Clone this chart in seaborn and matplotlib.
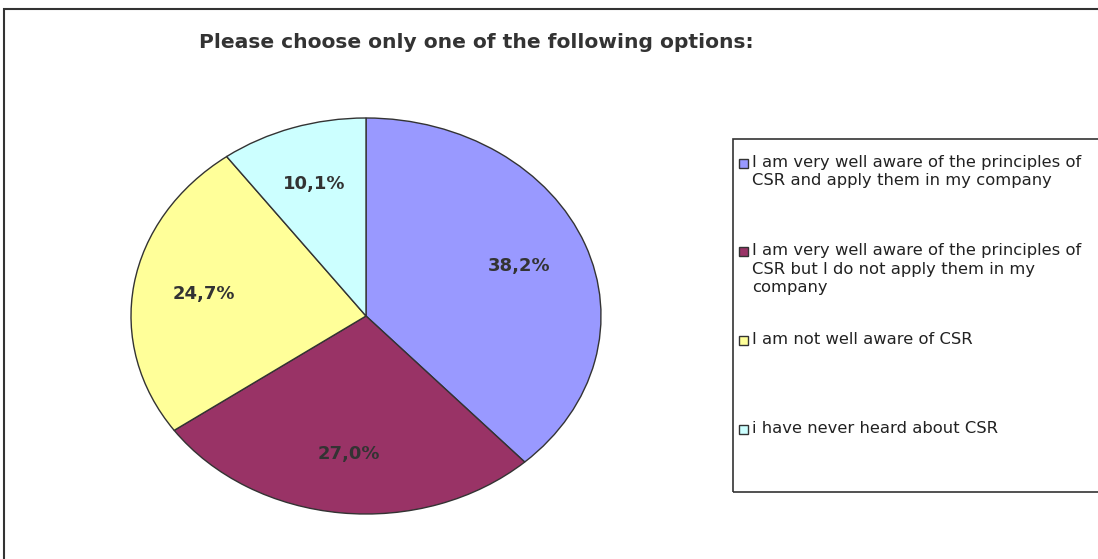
import matplotlib
matplotlib.use("Agg")
import matplotlib.pyplot as plt
import seaborn as sns
from matplotlib.patches import Rectangle

# dane z wykresu
labels = [
    "I am very well aware of the principles of\nCSR and apply them in my company",
    "I am very well aware of the principles of\nCSR but I do not apply them in my\ncompany",
    "I am not well aware of CSR",
    "i have never heard about CSR",
]
values = [38.2, 27.0, 24.7, 10.1]
colors = ["#9999FF", "#993366", "#FFFF99", "#CCFFFF"]
title = "Please choose only one of the following options:"

sns.set_style("white")
plt.rcParams['font.family'] = ['DejaVu Sans']
palette = sns.color_palette(colors)

W, H = 1098, 559
fig = plt.figure(figsize=(W / 100, H / 100), dpi=100)


def px(x, y):
    # piksele (od lewego gornego rogu) -> ulamki figury
    return x / W, 1 - y / H


# ramka wokol calego wykresu
fig.patches.append(Rectangle(px(4, 600), 1.2, (600 - 9) / H, transform=fig.transFigure,
                             fill=False, edgecolor="#333333", linewidth=1.5))

# elipsa: srodek (366, 316), promienie 235 x 198
ax = fig.add_axes([131 / W, (H - 514) / H, 470 / W, 396 / H])
wedges, texts, autotexts = ax.pie(
    values, colors=palette, startangle=90, counterclock=False, radius=1,
    pctdistance=0.7,
    autopct=lambda p: f"{p:.1f}%".replace(".", ","),
    wedgeprops=dict(edgecolor="#333333", linewidth=1),
    textprops=dict(fontsize=13, fontweight="bold", color="#333333"),
)
ax.set_aspect("auto")
ax.set_xlim(-1, 1)
ax.set_ylim(-1, 1)
ax.axis("off")

fig.text(*px(476, 42), title, ha="center", va="center", fontsize=14.6,
         fontweight="bold", color="#333333")

# legenda rysowana recznie (znacznik przy pierwszej linii wpisu)
fig.patches.append(Rectangle(px(733, 492), 0.5, (492 - 139) / H, transform=fig.transFigure,
                             fill=False, edgecolor="#333333", linewidth=1.2))
y0, step = 163, 88.7
for i, (lab, col) in enumerate(zip(labels, palette)):
    yc = y0 + i * step
    fig.patches.append(Rectangle(px(739, yc + 4.5), 9 / W, 9 / H, transform=fig.transFigure,
                                 facecolor=col, edgecolor="#333333", linewidth=1))
    fig.text(*px(752, yc - 8.5), lab, ha="left", va="top", fontsize=11.8,
             color="#222222", linespacing=1.3)

fig.savefig("out.png", dpi=100)
